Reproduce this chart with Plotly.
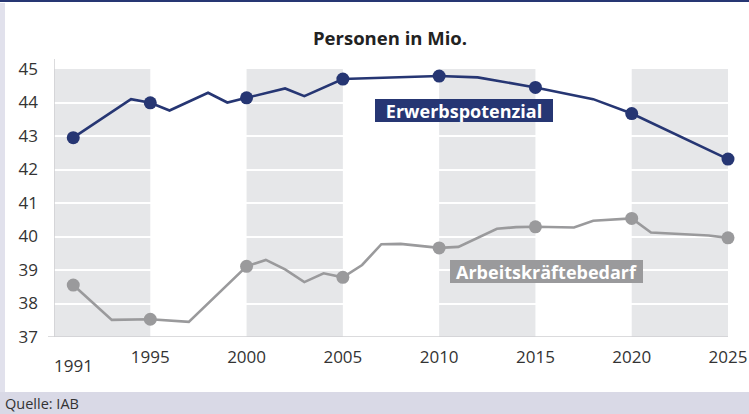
import plotly.graph_objects as go

# ---- data ----
erwerb_years = [1991, 1994, 1995, 1996, 1998, 1999, 2000, 2002, 2003, 2005, 2010, 2012, 2015, 2018, 2020, 2025]
erwerb_vals = [42.95, 44.10, 43.99, 43.76, 44.29, 44.00, 44.14, 44.42, 44.19, 44.70, 44.79, 44.75, 44.45, 44.10, 43.67, 42.31]

bedarf_years = [1991, 1993, 1995, 1997, 2000, 2001, 2002, 2003, 2004, 2005, 2006, 2007, 2008, 2010, 2011, 2013, 2014, 2015, 2017, 2018, 2020, 2021, 2024, 2025]
bedarf_vals = [38.55, 37.51, 37.53, 37.45, 39.11, 39.30, 39.02, 38.64, 38.90, 38.78, 39.15, 39.77, 39.78, 39.66, 39.69, 40.23, 40.28, 40.29, 40.27, 40.47, 40.54, 40.12, 40.03, 39.96]

marker_years = [1991, 1995, 2000, 2005, 2010, 2015, 2020, 2025]
x_tick_vals = [1995, 2000, 2005, 2010, 2015, 2020, 2025]
first_year_label = "1991"
y_tick_vals = [37, 38, 39, 40, 41, 42, 43, 44, 45]
shade_bands = [(1990, 1995), (2000, 2005), (2010, 2015), (2020, 2025)]

title_text = "Personen in Mio."
label_erwerb = "Erwerbspotenzial"
label_bedarf = "Arbeitskräftebedarf"
source_text = "Quelle: IAB"

NAVY = "#263673"
GREY = "#9a9a9c"
BAND = "#e6e7e9"
FONT = "Open Sans"

W, H = 749, 414
ML, MR, MT, MB = 54, 21, 69, 77
PW, PH = W - ML - MR, H - MT - MB

def px_to_paper_x(px):
    return (px - ML) / PW

def px_to_paper_y(py):
    return (H - MB - py) / PH

fig = go.Figure()

def add_series(years, vals, color):
    fig.add_trace(go.Scatter(x=years, y=vals, mode="lines",
                             line=dict(color=color, width=2.6), cliponaxis=False,
                             hoverinfo="skip", showlegend=False))
    mx = [y for y in years if y in marker_years]
    my = [v for y, v in zip(years, vals) if y in marker_years]
    fig.add_trace(go.Scatter(x=mx, y=my, mode="markers", cliponaxis=False,
                             marker=dict(color=color, size=13),
                             hoverinfo="skip", showlegend=False))

add_series(erwerb_years, erwerb_vals, NAVY)
add_series(bedarf_years, bedarf_vals, GREY)

shapes = []
for a, b in shade_bands:
    shapes.append(dict(type="rect", xref="x", yref="paper", x0=a, x1=b, y0=0, y1=1,
                       fillcolor=BAND, line=dict(width=0), layer="below"))
# axis lines
shapes.append(dict(type="line", xref="x", yref="paper", x0=1990, x1=1990, y0=0, y1=px_to_paper_y(59),
                   line=dict(color="#cfcfd2", width=1.5), layer="above"))
shapes.append(dict(type="line", xref="paper", yref="y", x0=px_to_paper_x(48), x1=1, y0=37, y1=37,
                   line=dict(color="#cfcfd2", width=1.5), layer="above"))
# frame decorations
shapes.append(dict(type="rect", xref="paper", yref="paper",
                   x0=px_to_paper_x(0), x1=px_to_paper_x(W), y0=px_to_paper_y(392), y1=px_to_paper_y(H),
                   fillcolor="#d9d9e6", line=dict(width=0), layer="below"))
shapes.append(dict(type="rect", xref="paper", yref="paper",
                   x0=px_to_paper_x(0), x1=px_to_paper_x(5), y0=px_to_paper_y(3), y1=px_to_paper_y(392),
                   fillcolor="#e1e1ec", line=dict(width=0), layer="below"))
shapes.append(dict(type="rect", xref="paper", yref="paper",
                   x0=px_to_paper_x(0), x1=px_to_paper_x(W), y0=px_to_paper_y(0), y1=px_to_paper_y(2),
                   fillcolor=NAVY, line=dict(width=0), layer="below"))

annotations = [
    dict(text="<b>" + title_text + "</b>", xref="paper", yref="paper",
         x=px_to_paper_x(390), y=px_to_paper_y(37), xanchor="center", yanchor="middle",
         showarrow=False, font=dict(family=FONT, size=18.5, color="#222222")),
    dict(text="<b>" + label_erwerb + "</b>", xref="x", yref="y", x=2011.29, y=43.76,
         xanchor="center", yanchor="middle", showarrow=False, width=178, height=23,
         bgcolor=NAVY, borderpad=0, borderwidth=0,
         font=dict(family=FONT, size=18, color="white")),
    dict(text="<b>" + label_bedarf + "</b>", xref="x", yref="y", x=2015.56, y=38.96,
         xanchor="center", yanchor="middle", showarrow=False, width=193, height=23,
         bgcolor=GREY, borderpad=0, borderwidth=0,
         font=dict(family=FONT, size=18, color="white")),
    dict(text=first_year_label, xref="x", yref="paper", x=1991, y=px_to_paper_y(365),
         xanchor="center", yanchor="middle", showarrow=False,
         font=dict(family=FONT, size=17, color="#333333")),
    dict(text=source_text, xref="paper", yref="paper", x=px_to_paper_x(3), y=px_to_paper_y(403),
         xanchor="left", yanchor="middle", showarrow=False,
         font=dict(family=FONT, size=14.5, color="#333333")),
]

fig.update_layout(
    width=W, height=H,
    margin=dict(l=ML, r=MR, t=MT, b=MB, autoexpand=False),
    paper_bgcolor="white", plot_bgcolor="white",
    shapes=shapes, annotations=annotations,
    xaxis=dict(range=[1990, 2025], tickvals=x_tick_vals, showgrid=False, zeroline=False,
               showline=False, ticks="", ticklabelstandoff=8, automargin=False,
               tickfont=dict(family=FONT, size=17, color="#333333")),
    yaxis=dict(range=[37, 45], tickvals=y_tick_vals, showgrid=True, gridcolor="white", gridwidth=1.5,
               zeroline=False, showline=False, ticks="", ticklabelstandoff=15, automargin=False,
               tickfont=dict(family=FONT, size=17, color="#333333")),
    font=dict(family=FONT),
)

fig.write_html("out.html", config={"displayModeBar": False},
               post_script="document.body.style.margin='0';document.body.style.overflow='hidden';")
